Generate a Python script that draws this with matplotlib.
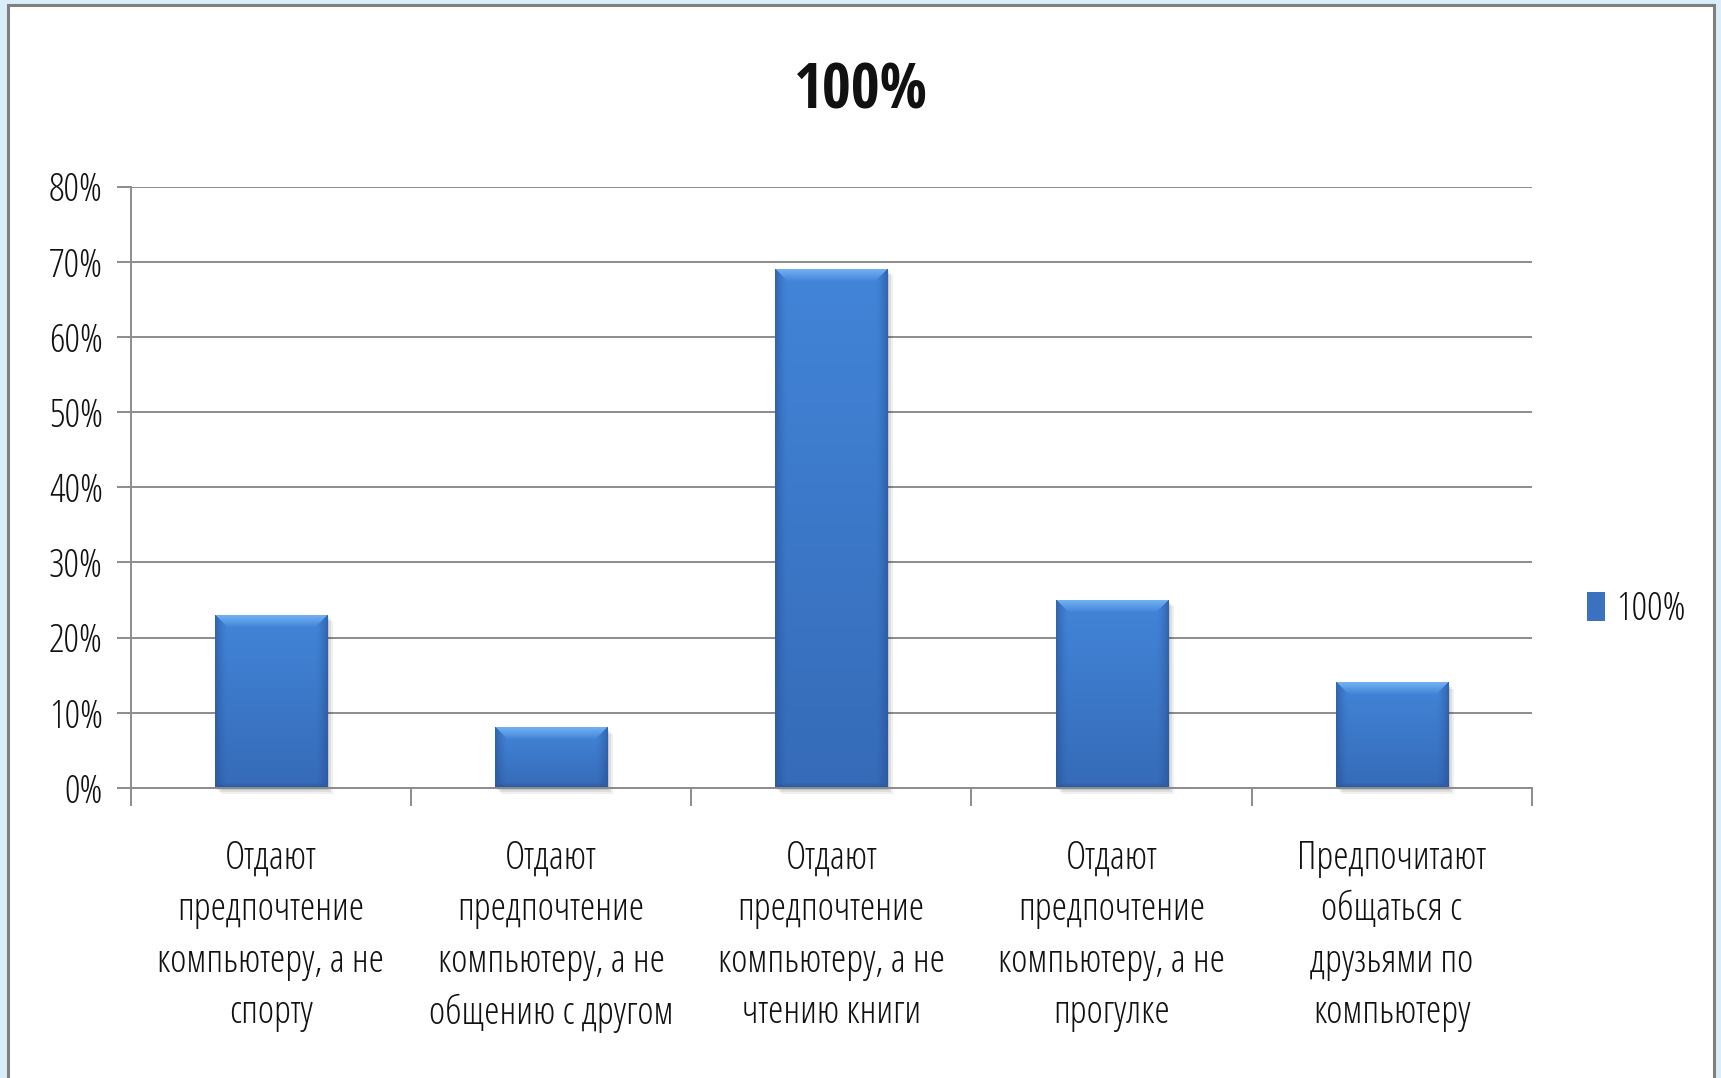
import numpy as np
import matplotlib
matplotlib.use("Agg")
import matplotlib.pyplot as plt
from matplotlib.patches import Rectangle
from matplotlib.ticker import FixedLocator, PercentFormatter

plt.rcParams['font.family'] = ['Open Sans', 'DejaVu Sans']
plt.rcParams['font.stretch'] = 'condensed'
plt.rcParams['font.weight'] = 'light'

categories = [
    "Отдают\nпредпочтение\nкомпьютеру, а не\nспорту",
    "Отдают\nпредпочтение\nкомпьютеру, а не\nобщению с другом",
    "Отдают\nпредпочтение\nкомпьютеру, а не\nчтению книги",
    "Отдают\nпредпочтение\nкомпьютеру, а не\nпрогулке",
    "Предпочитают\nобщаться с\nдрузьями по\nкомпьютеру",
]
values = [0.23, 0.08, 0.69, 0.25, 0.14]
series_name = "100%"
title = "100%"
yticks = [0.0, 0.1, 0.2, 0.3, 0.4, 0.5, 0.6, 0.7, 0.8]

W, H, DPI = 1721, 1078, 100
fig = plt.figure(figsize=(W / DPI, H / DPI), dpi=DPI)
fig.patch.set_facecolor('#d9eefa')

# white chart area with grey border
fig.add_artist(Rectangle((8 / W, -0.05), (1714 - 8) / W, 1 + 0.05 - 5 / H,
                         transform=fig.transFigure, facecolor='white',
                         edgecolor='#7f7f7f', linewidth=2.2, zorder=0))

ax = fig.add_axes([130.6 / W, 290 / H, (1532 - 130.6) / W, (891.4 - 290) / H])
ax.set_facecolor('none')

x = np.arange(len(values))
bw = 0.4
bars = ax.bar(x, values, width=bw, color='#3a72bf', zorder=3, label=series_name)

# bevelled gradient fill for each bar
ax_w_px = 1532 - 130.6
ax_h_px = 891.4 - 290
px_x = ax_w_px / len(values)
px_y = ax_h_px / 0.8


def bevel_image(w, h, b=12):
    top = np.array([0.44, 0.69, 0.95])
    face_t = np.array([0.26, 0.52, 0.85])
    face_b = np.array([0.21, 0.42, 0.72])
    edge = np.array([0.14, 0.30, 0.56])
    ii, jj = np.mgrid[0:h, 0:w]
    t = ii / max(h - 1, 1)
    img = face_t * (1 - t[..., None]) + face_b * t[..., None]
    dt, db = ii, h - 1 - ii
    ds = np.minimum(jj, w - 1 - jj)
    # side bevels: darken towards the edge
    m_side = (ds < b) & (ds <= dt)
    k = (1 - ds[m_side] / b)[:, None] ** 1.5
    img[m_side] = img[m_side] * (1 - 0.55 * k) + edge * 0.55 * k
    # bottom bevel: thin darker band
    bb = 5
    m_bot = (db < bb) & (db < ds)
    k = (1 - db[m_bot] / bb)[:, None]
    img[m_bot] = img[m_bot] * (1 - 0.6 * k) + edge * 0.6 * k
    # top bevel: light band with mitred corners
    m_top = (dt < b) & (dt < ds)
    k = (dt[m_top] / b)[:, None]
    img[m_top] = top * (1 - k) + img[m_top] * k
    return np.clip(img, 0, 1)


for xi, v in zip(x, values):
    w_px = int(round(bw * px_x))
    h_px = max(int(round(v * px_y)), 2)
    ax.imshow(bevel_image(w_px, h_px), extent=[xi - bw / 2, xi + bw / 2, 0, v],
              origin='upper', aspect='auto', zorder=4, interpolation='bilinear')
    # soft shadow
    for off, a in [(6, 0.06), (4, 0.08), (2, 0.10)]:
        ax.add_patch(Rectangle((xi - bw / 2 + off / px_x, -off / px_y), bw, v,
                               facecolor='#000000', alpha=a, linewidth=0,
                               zorder=2.9, clip_on=False))
ax.set_xlim(-0.5, len(values) - 0.5)
ax.set_ylim(0, 0.8)

# grid and axes
ax.yaxis.set_major_locator(FixedLocator(yticks))
ax.yaxis.set_major_formatter(PercentFormatter(1.0, decimals=0))
ax.grid(axis='y', color='#8c8c8c', linewidth=1.4, zorder=1)
ax.set_axisbelow(True)
for s in ['top', 'right']:
    ax.spines[s].set_visible(False)
for s in ['left', 'bottom']:
    ax.spines[s].set_color('#8c8c8c')
    ax.spines[s].set_linewidth(1.4)
    ax.spines[s].set_zorder(5)

ax.set_xticks(x)
ax.set_xticklabels(categories, fontsize=28, linespacing=1.44, color='#111111')
ax.set_xticks(np.arange(-0.5, len(values)), minor=True)
ax.tick_params(axis='x', which='major', length=0, pad=37)
ax.tick_params(axis='x', which='minor', length=13, width=1.4, color='#8c8c8c',
               direction='out')
ax.tick_params(axis='y', length=10, width=1.4, color='#8c8c8c', pad=10,
               labelsize=28, labelcolor='#111111')

fig.text(861 / W, 1 - 92 / H, title, ha='center', va='center',
         fontsize=45, family='Open Sans Condensed', fontweight='bold',
         color='#111111')

fig.legend([bars], [series_name], loc='center left',
           bbox_to_anchor=(1568 / W, 1 - 610 / H), bbox_transform=fig.transFigure,
           frameon=False, fontsize=28, handlelength=0.45, handleheight=0.75,
           handletextpad=0.3, borderpad=0, labelcolor='#111111')

fig.savefig('out.png', dpi=DPI, facecolor=fig.get_facecolor())
